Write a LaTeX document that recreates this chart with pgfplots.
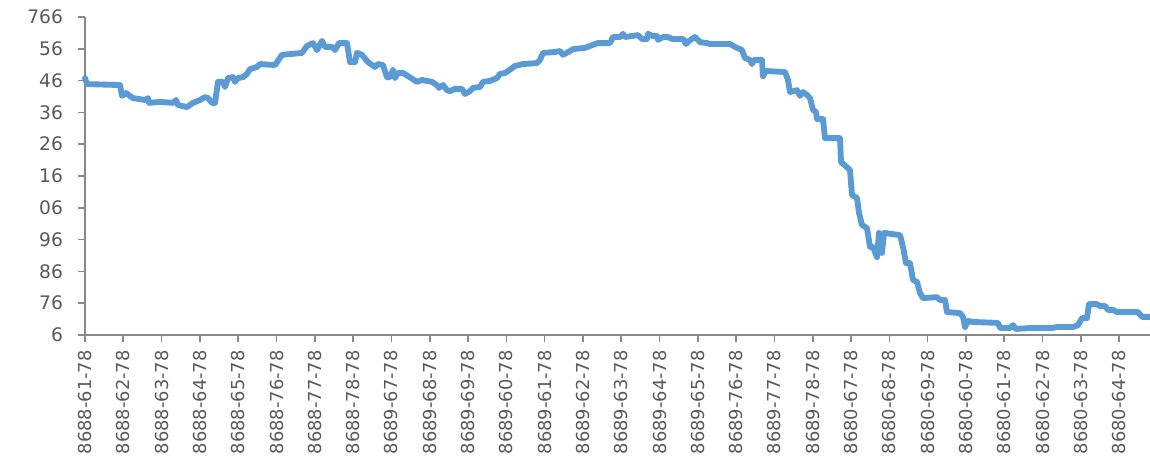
\documentclass[border=0pt]{standalone}
\usepackage{fontspec}
\setmainfont{DejaVu Sans}
\usepackage{pgfplots}
\pgfplotsset{compat=1.18}
\definecolor{linecol}{HTML}{5B9BD5}
\definecolor{txtcol}{HTML}{595959}
\definecolor{axcol}{HTML}{898989}

\pgfplotstableread{
x y
0 8.08
2 7.89
35 7.86
37 7.52
41 7.61
48 7.45
60 7.39
63 7.45
64 7.30
75 7.33
88 7.30
91 7.39
93 7.23
102 7.17
108 7.30
115 7.39
120 7.48
123 7.45
127 7.30
130 7.30
133 7.96
138 7.96
140 7.80
143 8.08
148 8.11
150 7.96
153 8.08
158 8.11
162 8.21
165 8.36
172 8.43
175 8.52
190 8.49
197 8.81
217 8.87
222 9.09
228 9.18
232 8.96
237 9.25
240 9.06
247 9.06
250 8.96
254 9.18
262 9.18
265 8.58
270 8.58
272 8.87
277 8.81
283 8.58
290 8.43
293 8.52
298 8.49
302 8.11
305 8.11
308 8.33
310 8.08
313 8.24
318 8.24
332 7.96
337 8.02
347 7.96
352 7.86
354 7.77
358 7.86
362 7.70
365 7.67
370 7.74
377 7.74
380 7.58
385 7.67
388 7.77
395 7.80
398 7.96
405 7.99
412 8.08
415 8.21
420 8.24
423 8.30
430 8.46
438 8.52
452 8.55
455 8.65
458 8.87
470 8.90
475 8.93
478 8.81
485 8.93
488 8.99
500 9.03
505 9.09
513 9.18
525 9.18
528 9.37
535 9.37
538 9.47
540 9.37
553 9.43
557 9.31
562 9.31
563 9.47
568 9.40
572 9.40
573 9.28
578 9.37
583 9.37
587 9.31
598 9.31
601 9.15
604 9.25
610 9.37
615 9.21
622 9.18
625 9.15
645 9.15
652 9.03
657 8.96
660 8.71
665 8.65
667 8.52
669 8.65
677 8.65
678 8.14
681 8.30
700 8.27
703 8.02
705 7.64
712 7.70
715 7.52
718 7.64
722 7.55
725 7.45
728 7.08
731 7.01
732 6.79
738 6.79
740 6.19
755 6.19
756 5.44
765 5.19
767 4.40
772 4.31
774 3.84
777 3.46
782 3.36
785 2.77
788 2.77
792 2.45
794 3.21
797 2.58
799 3.21
815 3.14
818 2.77
821 2.26
825 2.26
828 1.73
832 1.67
835 1.32
838 1.16
852 1.19
855 1.10
860 1.10
862 0.72
875 0.69
878 0.57
880 0.25
883 0.44
888 0.41
913 0.38
915 0.22
925 0.22
928 0.31
931 0.19
945 0.22
967 0.22
972 0.25
988 0.25
993 0.31
997 0.53
1002 0.53
1004 0.97
1012 0.97
1015 0.91
1020 0.91
1023 0.79
1028 0.79
1032 0.72
1053 0.72
1057 0.57
1065 0.57
}\series

\begin{document}
\begin{tikzpicture}
\begin{axis}[
    scale only axis,
    width=798.75pt, height=238.5pt,
    xmin=0, xmax=1065,
    ymin=0, ymax=10,
    axis lines*=left,
    axis line style={axcol, line width=1.5pt},
    tick style={axcol, line width=1.2pt},
    tick align=outside,
    major tick length=5pt,
    xtick={0,38.3,...,1040},
    xticklabels={8688-61-78,8688-62-78,8688-63-78,8688-64-78,8688-65-78,8688-76-78,8688-77-78,8688-78-78,8689-67-78,8689-68-78,8689-69-78,8689-60-78,8689-61-78,8689-62-78,8689-63-78,8689-64-78,8689-65-78,8689-76-78,8689-77-78,8689-78-78,8680-67-78,8680-68-78,8680-69-78,8680-60-78,8680-61-78,8680-62-78,8680-63-78,8680-64-78},
    xticklabel shift=3pt,
    x tick label style={rotate=90, anchor=east, font=\fontsize{13.4}{16}\selectfont, text=txtcol},
    ytick={0,1,...,10},
    yticklabels={6,76,86,96,06,16,26,36,46,56,766},
    y tick label style={xshift=-8pt, font=\fontsize{14}{16}\selectfont, text=txtcol},
    clip=false,
]
\addplot[linecol, line width=4.4pt, line join=round, line cap=round] table[x=x, y=y] {\series};
\end{axis}
\pgfresetboundingbox
\path[use as bounding box] ([xshift=-63.75pt,yshift=-96.75pt]current axis.south west) rectangle ([yshift=12.75pt]current axis.north east);
\end{tikzpicture}
\end{document}
